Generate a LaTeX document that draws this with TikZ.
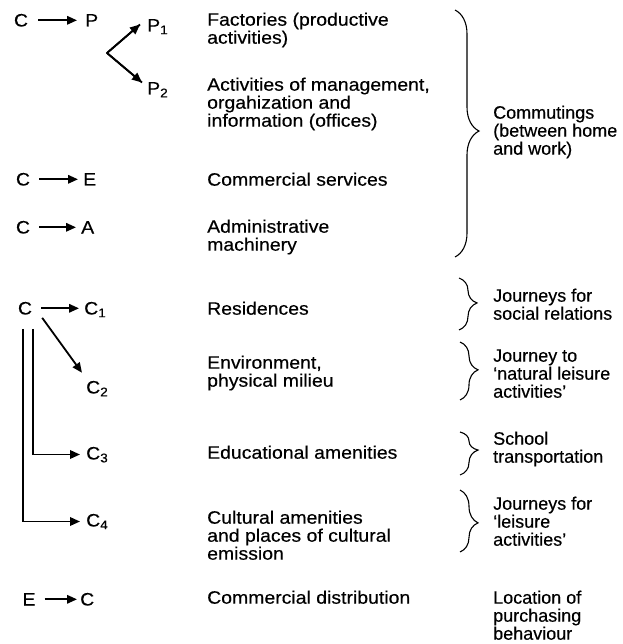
\documentclass[tikz,border=0pt]{standalone}
\usepackage{fontspec}
\setmainfont{Liberation Sans}[FakeStretch=1.08, FakeBold=0.4]
\newfontfamily\notefont{Liberation Sans}[FakeStretch=1.0, FakeBold=0.4]
\usetikzlibrary{arrows.meta,calc,decorations.pathreplacing}
% fixed first-line height so that block tops are predictable
\newcommand{\firstline}{\rule{0pt}{14pt}}

\begin{document}
\begin{tikzpicture}[
  x=1pt, y=-1pt,
  txt/.style={anchor=north west, inner sep=0pt, align=left,
              font=\fontsize{18}{18}\selectfont},
  note/.style={txt, font=\notefont\fontsize{18}{18}\selectfont},
  sym/.style={anchor=base, inner sep=0pt, font=\fontsize{18}{18}\selectfont},
  symw/.style={anchor=base west, inner sep=0pt, font=\fontsize{18}{18}\selectfont},
  arr/.style={line width=1.8pt, -{Triangle[length=10pt,width=8.5pt]}},
  pl/.style={line width=1.8pt},
  bigbrace/.style={line width=1.1pt, decorate,
                   decoration={brace, amplitude=24pt, aspect=0.49}},
  smallbrace/.style={line width=1.1pt, decorate,
                     decoration={brace, amplitude=18pt, aspect=#1}},
  smallbrace/.default=0.5
]
\useasboundingbox (0,0) rectangle (622,644);

% ---------- left column: relations ----------
\node[sym]  (cP)  at (21,26.5)   {C};
\node[symw] (P)   at (85,26.5)   {P};
\node[symw] (P1)  at (147,31.5)  {P\textsubscript{1}};
\node[symw] (P2)  at (147,94.5)  {P\textsubscript{2}};
\coordinate (split) at (107,53);

\node[sym]  (cE)  at (23,185.5)  {C};
\node[symw] (E)   at (83,185.5)  {E};
\node[sym]  (cA)  at (23,233.5)  {C};
\node[symw] (A)   at (81,233.5)  {A};

\node[sym]  (cC)  at (25,314.5)  {C};
\node[symw] (C1)  at (84,314.5)  {C\textsubscript{1}};
\node[symw] (C2)  at (86,393.5)  {C\textsubscript{2}};
\node[symw] (C3)  at (86,459.5)  {C\textsubscript{3}};
\node[symw] (C4)  at (86,526.5)  {C\textsubscript{4}};

\node[sym]  (eC)  at (29,605.5)  {E};
\node[symw] (dC)  at (80,605.5)  {C};

% arrows
\draw[arr, shorten <=10pt, shorten >=8pt] (cP.east) -- (P.west |- cP.east);
\draw[pl, line join=round] ($(P1.base west)+(-7,-7)$) -- (split)
      -- ($(P2.base west)+(-5,-12)$);
\draw[arr] (split) -- ($(P1.base west)+(-7,-7)$);
\draw[arr] (split) -- ($(P2.base west)+(-5,-12)$);

\draw[arr, shorten <=9pt, shorten >=5pt] (cE.east) -- (E.west |- cE.east);
\draw[arr, shorten <=9pt, shorten >=5pt] (cA.east) -- (A.west |- cA.east);

\draw[arr, shorten <=9pt, shorten >=5pt] (cC.east) -- (C1.west |- cC.east);
\draw[arr] ($(cC.south east)+(10,3)$) -- ($(C2.north west)+(-4,-8)$);
\draw[arr] ($(cC.south)+(8,14)$) |- ($(C3.base west)+(-6,-5)$);
\draw[arr] ($(cC.south)+(-2,14)$) |- ($(C4.base west)+(-6,-5)$);

\draw[arr, shorten <=9pt, shorten >=3pt] (eC.east) -- (dC.west |- eC.east);

% ---------- middle column: places ----------
\node[txt] (t1) at (207,11.5)  {\firstline Factories (productive\\activities)};
\node[txt] (t2) at (207,76.5)  {\firstline Activities of management,\\orgahization and\\information (offices)};
\node[txt] (t3) at (207,171.5) {\firstline Commercial services};
\node[txt] (t4) at (207,218.5) {\firstline Administrative\\machinery};
\node[txt] (t5) at (207,300.5) {\firstline Residences};
\node[txt] (t6) at (207,354.5) {\firstline Environment,\\physical milieu};
\node[txt] (t7) at (207,444.5) {\firstline Educational amenities};
\node[txt] (t8) at (207,509.5) {\firstline Cultural amenities\\and places of cultural\\emission};
\node[txt] (t9) at (207,589.5) {\firstline Commercial distribution};

% ---------- right column: journeys ----------
\node[note] (j1) at (493,104.5) {\firstline Commutings\\(between home\\and work)};
\node[note] (j2) at (493,287.5) {\firstline Journeys for\\social relations};
\node[note] (j3) at (493,347.5) {\firstline Journey to\\‘natural leisure\\activities’};
\node[note] (j4) at (493,430.5) {\firstline School\\transportation};
\node[note] (j5) at (493,495.5) {\firstline Journeys for\\‘leisure\\activities’};
\node[note] (j6) at (493,589.5) {\firstline Location of\\purchasing\\behaviour};

% ---------- braces ----------
\draw[bigbrace] (455,10) -- (455,257);
\draw[smallbrace=0.48] (459,278) -- (459,330);
\draw[smallbrace=0.48] (460,342) -- (460,400);
\draw[smallbrace=0.42] (460,432) -- (460,475);
\draw[smallbrace=0.53] (460,490) -- (460,552);
\end{tikzpicture}
\end{document}
